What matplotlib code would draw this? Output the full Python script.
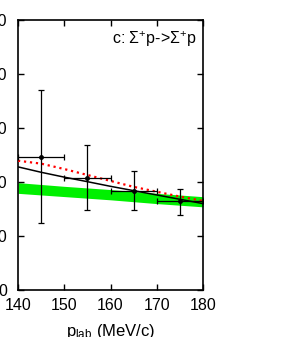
import numpy as np
import matplotlib.pyplot as plt

plt.rcParams['font.family'] = ['Liberation Sans', 'DejaVu Sans']
plt.rcParams['mathtext.fontset'] = 'custom'
plt.rcParams['mathtext.rm'] = 'Liberation Sans'
plt.rcParams['mathtext.it'] = 'Liberation Sans'

# data points (p_lab, cross section) with bin widths and errors
p_data = [145, 155, 165, 175]
sig_data = [123, 103.5, 92, 82]
err_lo = [61, 29.5, 18, 13]
err_hi = [62, 30.5, 18, 11.5]
bin_half = [5, 5, 5, 5]

# black solid curve
p_line = [140, 145, 150, 155, 160, 165, 170, 175, 180]
sig_black = [114, 109, 104.5, 100.3, 96, 92, 88, 84, 80]
# red dotted curve
sig_red = [119.7, 117, 112, 106.5, 101, 95.5, 91, 86.5, 82.5]

# green band
p_band = [140, 150, 160, 170, 180]
band_top = [99.4, 96, 93, 89.5, 86.4]
band_bot = [89.5, 86.5, 83.5, 80, 77]

fig = plt.figure(figsize=(2.92, 3.37), dpi=100)
ax = fig.add_axes([18 / 292, 47 / 337, 185 / 292, 270 / 337])

ax.fill_between(p_band, band_bot, band_top, color='#00f000', lw=0, zorder=1)
ax.plot(p_line, sig_black, color='black', lw=1.1, zorder=3)
ax.plot(p_line, sig_red, color='#ff0000', lw=1.6, ls=(0, (1, 1.7)), zorder=4)
ax.errorbar(p_data, sig_data, xerr=bin_half, yerr=[err_lo, err_hi],
            fmt='o', ms=2.5, color='black', ecolor='black', elinewidth=0.9,
            capsize=2.2, capthick=0.9, zorder=5)

ax.set_xlim(140, 180)
ax.set_ylim(0, 250)
ax.set_xticks([140, 150, 160, 170, 180])
ax.set_yticks([0, 50, 100, 150, 200, 250])
ax.tick_params(direction='in', top=True, right=True, length=4.5, width=1,
               labelsize=11.5)
ax.tick_params(axis='y', pad=8)
ax.tick_params(axis='x', pad=6)
for s in ax.spines.values():
    s.set_linewidth(1.2)

ax.text(0.965, 0.965, r'c: $\Sigma^{+}$p->$\Sigma^{+}$p', transform=ax.transAxes,
        ha='right', va='top', fontsize=11.5)
ax.set_xlabel(r'p$_{\mathrm{lab}}$ (MeV/c)', fontsize=12, labelpad=6)

fig.savefig('out.png', dpi=100)
